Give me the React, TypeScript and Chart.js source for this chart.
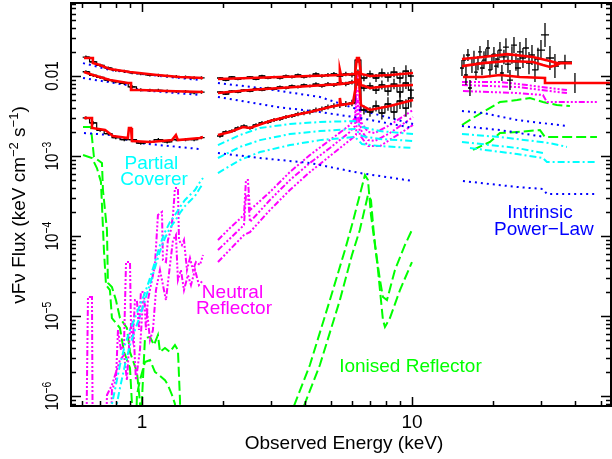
import React, { useEffect, useRef } from "react";
import { Chart, registerables } from "chart.js";

Chart.register(...registerables);

// ---------- axes (Energy keV, nuFnu keV cm^-2 s^-1) ----------
const xRange = [0.546, 54.6];
const yRange = [7.5e-7, 0.0818];
const xTickValues = [1, 10];
const xTickLabels = ["1", "10"];
const yTickValues = [0.01, 1e-3, 1e-4, 1e-5, 1e-6];
const yTickMantissa = ["0.01", "10", "10", "10", "10"];
const yTickExponent = ["", "−3", "−4", "−5", "−6"];

// ---------- component labels ----------
const labelTexts = ["Partial", "Coverer", "Neutral", "Reflector", "Ionised Reflector", "Intrinsic", "Power−Law"];
const labelE = [1.084, 1.108, 2.164, 2.192, 9.87, 29.8, 30.8];
const labelF = [6.88e-4, 4.34e-4, 1.68e-5, 1.06e-5, 2.0e-6, 1.68e-4, 1.03e-4];
const labelKinds = ["pc", "pc", "nr", "nr", "ir", "pl", "pl"];

// ---------- soft band (0.6-1.7 keV) ----------
const redSoftTopE = [0.61, 0.658, 0.658, 0.699, 0.761, 0.903, 1.137, 1.383, 1.683];
const redSoftTopF = [0.0168, 0.0168, 0.0145, 0.0137, 0.0122, 0.0112, 0.0103, 0.00972, 0.00944];
const redSoftMidE = [0.61, 0.658, 0.761, 0.887, 0.911, 0.911, 0.983, 1.238, 1.683];
const redSoftMidF = [0.0112, 0.0103, 0.00891, 0.00818, 0.00818, 0.00668, 0.00668, 0.00649, 0.00631];
const redSoftBotE = [0.61, 0.653, 0.653, 0.73, 0.781, 0.887, 0.895, 0.911, 0.918, 1.071, 1.292, 1.336, 1.359, 1.64, 1.683];
const redSoftBotF = [0.00299, 0.00299, 0.00224, 0.00211, 0.00178, 0.00168, 0.00224, 0.00224, 0.00154, 0.0015, 0.00158, 0.00183, 0.00158, 0.00168, 0.00173];

const blueSoftTopE = [0.605, 0.761, 1.071, 1.64];
const blueSoftTopF = [0.0145, 0.0119, 0.0103, 0.00891];
const blueSoftMidE = [0.605, 0.88, 0.983, 1.64];
const blueSoftMidF = [0.00944, 0.00772, 0.00668, 0.00579];
const blueSoftBotE = [0.61, 0.761, 0.983, 1.27, 1.64];
const blueSoftBotF = [0.00194, 0.00183, 0.00145, 0.00133, 0.00122];

const blkSoftE = [0.62, 0.66, 0.7, 0.75, 0.8, 0.86, 0.92, 0.99, 1.07, 1.15, 1.24, 1.34, 1.45, 1.56, 1.66];
const blkSoftTopF = [0.0172, 0.015, 0.0136, 0.0126, 0.0118, 0.0114, 0.011, 0.0107, 0.0103, 0.0102, 0.01, 0.0098, 0.0097, 0.0095, 0.0095];
const blkSoftMidF = [0.0113, 0.0102, 0.0096, 0.0089, 0.0085, 0.0081, 0.0073, 0.0067, 0.0066, 0.0066, 0.0065, 0.0064, 0.0064, 0.0062, 0.0063];
const blkSoftBotF = [0.003, 0.0026, 0.0021, 0.0019, 0.0017, 0.0016, 0.0016, 0.00145, 0.0015, 0.0016, 0.0015, 0.0016, 0.0016, 0.0016, 0.0017];
const blkSoftErr = [0.02, 0.02, 0.02, 0.02, 0.02, 0.02, 0.02, 0.02, 0.02, 0.02, 0.02, 0.02, 0.02, 0.02, 0.02];

const cyanSoft1E = [0.761, 0.794, 0.829, 0.865, 0.903, 0.942, 0.983, 1.026, 1.071, 1.117, 1.166, 1.217, 1.27, 1.325, 1.383, 1.443, 1.506, 1.572, 1.64, 1.683];
const cyanSoft1F = [6e-7, 1.19e-6, 2.44e-6, 4.34e-6, 6.68e-6, 9.44e-6, 1.37e-5, 1.94e-5, 2.99e-5, 4.73e-5, 7.72e-5, 1.12e-4, 1.5e-4, 1.83e-4, 2.3e-4, 2.82e-4, 3.26e-4, 3.76e-4, 4.73e-4, 5.31e-4];
const cyanSoft2E = [0.794, 0.829, 0.865, 0.903, 0.942, 0.983, 1.026, 1.071, 1.117, 1.166, 1.217, 1.27, 1.325, 1.383, 1.443, 1.506, 1.572, 1.64, 1.683];
const cyanSoft2F = [6e-7, 1.26e-6, 2.44e-6, 4.34e-6, 6.68e-6, 1.0e-5, 1.58e-5, 2.51e-5, 3.98e-5, 6.49e-5, 9.44e-5, 1.26e-4, 1.54e-4, 1.94e-4, 2.37e-4, 2.74e-4, 3.16e-4, 3.98e-4, 4.47e-4];

const magSoft1E = [0.62, 0.631, 0.653, 0.658, 0.761, 0.774, 0.801, 0.815, 0.836, 0.858, 0.873, 0.903, 0.911, 0.926, 0.942, 0.958, 0.975, 0.991, 1.017, 1.035, 1.052, 1.089, 1.117, 1.146, 1.186, 1.196, 1.227, 1.248, 1.28, 1.303, 1.325, 1.359, 1.371, 1.406, 1.431, 1.468, 1.506, 1.545, 1.585, 1.64, 1.683];
const magSoft1F = [1e-7, 1.73e-5, 1.73e-5, 1e-7, 1e-7, 1.19e-6, 1.58e-6, 6.68e-6, 3.76e-6, 4.34e-6, 4.73e-5, 4.73e-5, 6.68e-6, 5.0e-6, 1.58e-5, 1.58e-5, 6.68e-6, 2.0e-5, 2.0e-5, 6.68e-6, 1.58e-5, 2.82e-5, 4.34e-5, 1.83e-4, 2.0e-4, 5.0e-5, 4.73e-5, 8.91e-5, 1.19e-4, 1.83e-4, 3.98e-4, 3.98e-4, 8.91e-5, 7.72e-5, 8.91e-5, 3.76e-5, 5.31e-5, 3.76e-5, 4.73e-5, 4.34e-5, 5.79e-5];
const magSoft2E = [0.73, 0.742, 0.774, 0.829, 0.858, 0.88, 0.903, 0.926, 0.95, 0.983, 1.009, 1.044, 1.071, 1.098, 1.127, 1.166, 1.196, 1.227, 1.27, 1.303, 1.336, 1.359, 1.394, 1.431, 1.48, 1.519, 1.572, 1.626, 1.683];
const magSoft2F = [1e-7, 1.03e-6, 1.37e-6, 2.82e-6, 3.26e-6, 1.58e-6, 6.68e-6, 8.91e-6, 1.58e-6, 3.76e-6, 1.58e-5, 1.19e-5, 5.0e-6, 6.68e-6, 2.11e-5, 3.76e-5, 2.44e-5, 1.58e-5, 4.34e-5, 8.91e-5, 1.03e-4, 2.82e-5, 3.76e-5, 2.11e-5, 3.25e-5, 2.44e-5, 3.76e-5, 2.44e-5, 2.82e-5];

const greenSoft1E = [0.605, 0.647, 0.664, 0.711, 0.717, 0.742, 0.748, 0.774, 0.801, 0.829, 0.88, 0.903, 0.958, 0.983, 0.991];
const greenSoft1F = [2.3e-3, 2.3e-3, 9.72e-4, 8.18e-4, 3.76e-4, 1.19e-4, 2.59e-5, 2.31e-5, 1.58e-5, 9.44e-6, 7.08e-6, 3.55e-6, 2.0e-6, 8.41e-7, 1e-7];
const greenSoft2E = [0.605, 0.653, 0.681, 0.705, 0.711, 0.723, 0.736, 0.761, 0.774, 0.829, 0.858, 0.903, 0.918, 0.926];
const greenSoft2F = [1.03e-3, 9.44e-4, 7.08e-4, 4.73e-4, 2.44e-4, 6.68e-5, 2.44e-5, 2.11e-5, 9.44e-6, 7.08e-6, 3.55e-6, 2.24e-6, 8.18e-7, 1e-7];
const greenSoft3E = [0.983, 1.0, 1.026, 1.071, 1.108, 1.146, 1.166, 1.217, 1.27, 1.325, 1.359, 1.383, 1.394];
const greenSoft3F = [1e-7, 8.91e-7, 5.31e-6, 5.47e-6, 4.34e-6, 5.79e-6, 3.55e-6, 3.98e-6, 3.55e-6, 4.34e-6, 3.76e-6, 8.91e-7, 1e-7];
const greenSoft4E = [0.942, 0.958, 0.983, 1.026, 1.071, 1.117, 1.166, 1.217, 1.248, 1.292, 1.325, 1.336];
const greenSoft4F = [1e-7, 1.03e-6, 1.58e-6, 2.66e-6, 2.82e-6, 2.0e-6, 1.78e-6, 1.58e-6, 1.37e-6, 1.03e-6, 7.94e-7, 1e-7];

// ---------- medium band (2-10 keV) ----------
const redMidTopE = [1.912, 2.512, 3.244, 4.188, 5.408, 5.408, 5.457, 6.15, 6.256, 6.364, 6.473, 6.99, 8.287, 10.09];
const redMidTopF = [9.17e-3, 9.44e-3, 9.72e-3, 0.01, 0.0103, 0.0119, 0.0103, 0.0106, 0.0168, 0.0168, 0.0106, 0.01, 0.0103, 0.0109];
const redMidMidE = [1.912, 2.512, 3.244, 4.188, 5.408, 5.408, 5.457, 6.15, 6.256, 6.364, 6.473, 6.99, 8.287, 10.09];
const redMidMidF = [6.13e-3, 6.68e-3, 7.08e-3, 7.5e-3, 7.94e-3, 9.72e-3, 7.94e-3, 8.41e-3, 0.0112, 0.0112, 7.72e-3, 7.08e-3, 7.5e-3, 7.72e-3];
const redMidBotE = [1.912, 2.118, 2.366, 2.512, 2.979, 3.532, 4.188, 4.966, 5.408, 5.408, 5.457, 6.046, 6.256, 6.364, 6.473, 6.99, 8.287, 10.09];
const redMidBotF = [1.83e-3, 2.0e-3, 2.3e-3, 2.24e-3, 2.74e-3, 3.16e-3, 3.55e-3, 4.1e-3, 4.34e-3, 5.31e-3, 4.34e-3, 4.6e-3, 8.91e-3, 8.91e-3, 4.34e-3, 3.76e-3, 4.22e-3, 5.01e-3];

const blueMid1E = [1.912, 2.735, 4.56, 6.41, 10.09];
const blueMid1F = [8.18e-3, 7.08e-3, 5.47e-3, 3.76e-3, 2.51e-3];
const blueMid2E = [1.912, 3.162, 4.56, 6.41, 10.09];
const blueMid2F = [5.47e-3, 4.1e-3, 3.55e-3, 2.99e-3, 2.24e-3];
const blueMid3E = [1.912, 2.735, 4.188, 6.41, 10.09];
const blueMid3F = [1.09e-3, 9.44e-4, 8.18e-4, 6.13e-4, 4.87e-4];

const cyanMidE = [1.912, 2.307, 2.735, 3.532, 4.56, 6.15, 6.529, 7.612, 10.09];
const cyanMid1F = [1.37e-3, 1.83e-3, 2.24e-3, 2.51e-3, 2.66e-3, 2.74e-3, 2.3e-3, 2.05e-3, 1.88e-3];
const cyanMid2F = [9.44e-4, 1.3e-3, 1.58e-3, 1.88e-3, 2.05e-3, 2.18e-3, 1.78e-3, 1.63e-3, 1.54e-3];
const cyanMid3F = [6.13e-4, 8.91e-4, 1.12e-3, 1.37e-3, 1.58e-3, 1.73e-3, 1.41e-3, 1.33e-3, 1.26e-3];

const magMid1E = [1.912, 2.118, 2.387, 2.428, 2.469, 2.512, 2.979, 3.532, 4.188, 4.966, 5.889, 6.15, 6.256, 6.364, 6.473, 6.871, 7.295, 8.287, 10.09];
const magMid1F = [8.91e-5, 1.26e-4, 1.83e-4, 5.01e-4, 5.01e-4, 2.11e-4, 3.55e-4, 6.31e-4, 1.03e-3, 1.58e-3, 2.44e-3, 2.99e-3, 0.0103, 0.0103, 2.66e-3, 2.0e-3, 1.94e-3, 2.44e-3, 3.76e-3];
const magMid2E = [1.912, 2.387, 2.428, 2.469, 2.512, 2.979, 3.532, 4.188, 4.966, 5.889, 6.15, 6.256, 6.364, 6.473, 6.871, 7.295, 8.287, 10.09];
const magMid2F = [6.68e-5, 1.37e-4, 3.26e-4, 3.26e-4, 1.5e-4, 2.82e-4, 5.01e-4, 8.18e-4, 1.26e-3, 2.0e-3, 2.37e-3, 6.68e-3, 6.68e-3, 2.11e-3, 1.58e-3, 1.54e-3, 1.94e-3, 3.07e-3];
const magMid3E = [1.912, 2.387, 2.512, 2.979, 3.532, 4.188, 4.966, 5.889, 6.203, 6.31, 6.41, 6.871, 7.612, 10.09];
const magMid3F = [4.73e-5, 1.03e-4, 1.12e-4, 2.11e-4, 3.76e-4, 6.31e-4, 1.0e-3, 1.58e-3, 1.83e-3, 5.01e-3, 1.83e-3, 1.33e-3, 1.33e-3, 2.44e-3];

const greenMid1E = [3.594, 3.656, 4.188, 4.966, 5.648, 5.995, 6.41, 6.697, 6.871, 7.05, 7.295, 7.612, 7.808, 8.08, 8.65, 9.42, 10.0];
const greenMid1F = [1e-7, 7.5e-7, 2.44e-6, 1.58e-5, 6.68e-5, 1.37e-4, 3.26e-4, 5.79e-4, 5.01e-4, 1.83e-4, 7.72e-5, 2.82e-5, 1.73e-5, 1.58e-5, 3.76e-5, 7.72e-5, 1.19e-4];
const greenMid2E = [3.913, 3.981, 4.56, 5.408, 5.995, 6.41, 6.871, 7.05, 7.233, 7.484, 7.808, 7.943, 8.287, 9.028, 10.0];
const greenMid2F = [1e-7, 7.5e-7, 2.44e-6, 1.58e-5, 5.79e-5, 1.19e-4, 3.26e-4, 2.82e-4, 1.03e-4, 3.76e-5, 8.91e-6, 7.29e-6, 9.44e-6, 2.11e-5, 4.73e-5];

const blkMidE = [1.945, 2.045, 2.153, 2.267, 2.387, 2.512, 2.645, 2.783, 2.929, 3.084, 3.244, 3.415, 3.594, 3.783, 3.981, 4.188, 4.41, 4.64, 4.885, 5.14, 5.408, 5.69, 5.995, 6.31, 6.64, 6.99, 7.36, 7.74, 8.15, 8.58, 9.03, 9.5, 9.91];
const blkMidTopF = [9.44e-3, 8.91e-3, 9.72e-3, 9.17e-3, 9.44e-3, 9.72e-3, 9.17e-3, 0.01, 9.44e-3, 9.72e-3, 9.44e-3, 0.01, 9.72e-3, 0.0103, 9.72e-3, 0.01, 0.0106, 0.01, 0.0103, 0.0106, 0.01, 0.0106, 0.0103, 0.0158, 9.44e-3, 0.0106, 9.44e-3, 0.0109, 9.72e-3, 0.0112, 9.44e-3, 0.0115, 0.01];
const blkMidMidF = [6.31e-3, 5.96e-3, 6.49e-3, 6.31e-3, 6.68e-3, 6.49e-3, 6.88e-3, 6.68e-3, 7.08e-3, 6.88e-3, 7.29e-3, 7.08e-3, 7.5e-3, 7.29e-3, 7.72e-3, 7.5e-3, 7.94e-3, 7.5e-3, 7.94e-3, 7.72e-3, 8.18e-3, 7.94e-3, 8.41e-3, 0.0112, 7.08e-3, 7.5e-3, 6.68e-3, 7.72e-3, 6.49e-3, 7.94e-3, 6.31e-3, 8.18e-3, 6.68e-3];
const blkMidBotF = [1.78e-3, 2.0e-3, 2.05e-3, 2.24e-3, 2.37e-3, 2.24e-3, 2.44e-3, 2.59e-3, 2.66e-3, 2.82e-3, 2.9e-3, 3.07e-3, 3.16e-3, 3.35e-3, 3.45e-3, 3.55e-3, 3.76e-3, 3.87e-3, 4.1e-3, 4.22e-3, 4.34e-3, 4.47e-3, 4.6e-3, 8.41e-3, 3.76e-3, 3.55e-3, 4.22e-3, 3.45e-3, 4.47e-3, 3.55e-3, 4.87e-3, 3.98e-3, 5.31e-3];
const blkMidErr = [0.014, 0.014, 0.014, 0.014, 0.014, 0.014, 0.016, 0.016, 0.016, 0.016, 0.018, 0.018, 0.018, 0.02, 0.02, 0.02, 0.022, 0.022, 0.024, 0.024, 0.026, 0.028, 0.03, 0.032, 0.04, 0.045, 0.05, 0.055, 0.06, 0.065, 0.07, 0.075, 0.085];
const blkMidErrLow = [0.022, 0.022, 0.022, 0.022, 0.022, 0.022, 0.022, 0.024, 0.024, 0.024, 0.026, 0.026, 0.026, 0.028, 0.028, 0.03, 0.03, 0.032, 0.032, 0.034, 0.036, 0.038, 0.04, 0.045, 0.055, 0.06, 0.07, 0.08, 0.085, 0.09, 0.1, 0.11, 0.12];

// ---------- hard band (15-50 keV) ----------
const redHard1E = [15.32, 18.32, 22.49, 28.05, 32.44, 34.43, 39.15];
const redHard1F = [0.0163, 0.0173, 0.0188, 0.0173, 0.0154, 0.0145, 0.0145];
const redHard2E = [15.32, 18.32, 22.49, 28.05, 30.55, 32.44, 34.43, 35.32];
const redHard2F = [0.0133, 0.0145, 0.0154, 0.015, 0.0137, 0.013, 0.0137, 0.0145];
const redHard3E = [15.45, 18.32, 21.18, 25.12, 31.1, 31.1, 54.1];
const redHard3F = [9.72e-3, 9.72e-3, 0.0103, 9.72e-3, 9.44e-3, 8.18e-3, 8.18e-3];

const magHard1E = [15.32, 21.18, 26.66, 32.44, 37.5];
const magHard1F = [8.41e-3, 8.41e-3, 7.72e-3, 7.08e-3, 6.68e-3];
const magHard2E = [15.32, 24.49, 32.44, 37.5];
const magHard2F = [7.72e-3, 7.29e-3, 6.49e-3, 6.13e-3];
const magHard3E = [15.45, 24.49, 30.55, 31.62, 48.43];
const magHard3F = [6.49e-3, 6.13e-3, 5.79e-3, 4.73e-3, 4.73e-3];

const greenHard1E = [15.32, 16.83, 18.32, 21.18, 24.49, 27.35, 30.55, 34.43, 38.46];
const greenHard1F = [2.44e-3, 2.99e-3, 3.55e-3, 4.73e-3, 5.01e-3, 5.31e-3, 4.73e-3, 4.34e-3, 4.22e-3];
const greenHard2E = [16.83, 19.45, 21.18, 24.49, 29.79, 31.1, 48.43];
const greenHard2F = [1.19e-3, 1.5e-3, 1.94e-3, 2.0e-3, 2.11e-3, 1.73e-3, 1.73e-3];

const blueHard1E = [15.32, 18.32, 24.49, 37.5];
const blueHard1F = [3.65e-3, 3.45e-3, 2.82e-3, 2.37e-3];
const blueHard2E = [15.32, 21.18, 31.1];
const blueHard2F = [2.37e-3, 2.11e-3, 1.73e-3];
const blueHard3E = [15.45, 24.49, 30.55, 31.62, 48.43];
const blueHard3F = [4.87e-4, 4.1e-4, 3.87e-4, 3.35e-4, 3.35e-4];

const cyanHard1E = [15.32, 21.18, 32.44, 37.5];
const cyanHard1F = [1.88e-3, 1.73e-3, 1.45e-3, 1.3e-3];
const cyanHard2E = [15.32, 24.49, 30.55];
const cyanHard2F = [1.5e-3, 1.26e-3, 1.09e-3];
const cyanHard3E = [16.4, 24.49, 30.55, 31.62, 48.43];
const cyanHard3F = [1.26e-3, 1.06e-3, 9.44e-4, 8.41e-4, 8.41e-4];

const blkHardE = [15.32, 15.58, 15.85, 16.12, 16.4, 16.68, 16.97, 17.26, 17.56, 17.86, 18.17, 18.48, 18.79, 19.12, 19.45, 19.78, 20.12, 20.47, 20.82, 21.18, 21.54, 21.91, 22.29, 22.68, 23.07, 23.46, 23.87, 24.28, 24.7, 25.12, 25.77, 26.44, 27.13, 27.83, 28.55, 29.29, 30.05, 31.1, 32.44, 33.85, 36.87, 40.15];
const blkHardF = [0.0126, 0.0158, 0.0103, 0.0183, 0.00708, 0.0137, 0.0168, 0.0112, 0.0145, 0.02, 0.0126, 0.0158, 0.0178, 0.0224, 0.0119, 0.015, 0.0188, 0.0133, 0.0163, 0.0211, 0.0109, 0.0173, 0.023, 0.0141, 0.00891, 0.0183, 0.0244, 0.015, 0.0126, 0.02, 0.0168, 0.0224, 0.0145, 0.0183, 0.0119, 0.0163, 0.0211, 0.0326, 0.0168, 0.0133, 0.015, 0.00818];
const blkHardErr = [0.1, 0.075, 0.125, 0.075, 0.1, 0.1, 0.09, 0.1, 0.09, 0.075, 0.09, 0.11, 0.09, 0.1, 0.09, 0.1, 0.09, 0.1, 0.11, 0.1, 0.1, 0.09, 0.11, 0.11, 0.125, 0.11, 0.1, 0.11, 0.125, 0.125, 0.125, 0.125, 0.14, 0.125, 0.15, 0.14, 0.125, 0.15, 0.15, 0.15, 0.09, 0.125];
const blkHardXErr = [0.0074, 0.0074, 0.0074, 0.0074, 0.0074, 0.0074, 0.0074, 0.0074, 0.0074, 0.0074, 0.0074, 0.0074, 0.0074, 0.0074, 0.0074, 0.0074, 0.0074, 0.0074, 0.0074, 0.0074, 0.0074, 0.011, 0.011, 0.011, 0.011, 0.011, 0.011, 0.011, 0.011, 0.011, 0.011, 0.011, 0.011, 0.011, 0.011, 0.011, 0.015, 0.015, 0.015, 0.015, 0.026, 0.11];

// ---------- series lists ----------
const modelSeries = [
  [redSoftTopE, redSoftTopF], [redSoftMidE, redSoftMidF], [redSoftBotE, redSoftBotF],
  [redMidTopE, redMidTopF], [redMidMidE, redMidMidF], [redMidBotE, redMidBotF],
  [redHard1E, redHard1F], [redHard2E, redHard2F], [redHard3E, redHard3F],
];
// [energies, fluxes, y-error (dex), x half-width (dex), joined]
const dataSeries = [
  [blkSoftE, blkSoftTopF, blkSoftErr, 0.012, true], [blkSoftE, blkSoftMidF, blkSoftErr, 0.012, true], [blkSoftE, blkSoftBotF, blkSoftErr, 0.012, true],
  [blkMidE, blkMidTopF, blkMidErr, 0.011, true], [blkMidE, blkMidMidF, blkMidErr, 0.011, true], [blkMidE, blkMidBotF, blkMidErrLow, 0.011, true],
  [blkHardE, blkHardF, blkHardErr, blkHardXErr, false],
];
const plSeries = [
  [blueSoftTopE, blueSoftTopF], [blueSoftMidE, blueSoftMidF], [blueSoftBotE, blueSoftBotF],
  [blueMid1E, blueMid1F], [blueMid2E, blueMid2F], [blueMid3E, blueMid3F],
  [blueHard1E, blueHard1F], [blueHard2E, blueHard2F], [blueHard3E, blueHard3F],
];
const pcSeries = [
  [cyanSoft1E, cyanSoft1F], [cyanSoft2E, cyanSoft2F],
  [cyanMidE, cyanMid1F], [cyanMidE, cyanMid2F], [cyanMidE, cyanMid3F],
  [cyanHard1E, cyanHard1F], [cyanHard2E, cyanHard2F], [cyanHard3E, cyanHard3F],
];
const nrSeries = [
  [magSoft1E, magSoft1F], [magSoft2E, magSoft2F],
  [magMid1E, magMid1F], [magMid2E, magMid2F], [magMid3E, magMid3F],
  [magHard1E, magHard1F], [magHard2E, magHard2F], [magHard3E, magHard3F],
];
const irSeries = [
  [greenSoft1E, greenSoft1F], [greenSoft2E, greenSoft2F], [greenSoft3E, greenSoft3F], [greenSoft4E, greenSoft4F],
  [greenMid1E, greenMid1F], [greenMid2E, greenMid2F],
  [greenHard1E, greenHard1F], [greenHard2E, greenHard2F],
];

const STYLE: any = {
  model: { color: "#ff0000", width: 2.6, dash: [] },
  pl: { color: "#0000ff", width: 2, dash: [2, 4] },
  pc: { color: "#00ffff", width: 2, dash: [7, 3, 2, 3] },
  nr: { color: "#ff00ff", width: 2, dash: [6, 2, 2, 2, 2, 2, 2, 2] },
  ir: { color: "#00ff00", width: 2, dash: [10, 4] },
};

const FONT = '19px "Liberation Sans", Arial, Helvetica, sans-serif';
const SUP_FONT = '13px "Liberation Sans", Arial, Helvetica, sans-serif';

function zip(E: number[], F: number[]) {
  return E.map((e, i) => ({ x: e, y: F[i] }));
}

function lineSet(s: any[], kind: string) {
  const st = STYLE[kind];
  return {
    data: zip(s[0], s[1]),
    showLine: true,
    borderColor: st.color,
    backgroundColor: st.color,
    borderWidth: st.width,
    borderDash: st.dash,
    pointRadius: 0,
    fill: false,
    tension: 0,
  };
}

function buildDatasets() {
  const out: any[] = [];
  modelSeries.forEach((s) => out.push(lineSet(s, "model")));
  dataSeries.forEach((s: any[]) =>
    out.push({
      data: zip(s[0], s[1]),
      showLine: s[4],
      stepped: "middle",
      borderColor: "#000000",
      borderWidth: 1.2,
      pointRadius: 0,
      fill: false,
      yErr: s[2],
      xErr: s[3],
    })
  );
  plSeries.forEach((s) => out.push(lineSet(s, "pl")));
  pcSeries.forEach((s) => out.push(lineSet(s, "pc")));
  nrSeries.forEach((s) => out.push(lineSet(s, "nr")));
  irSeries.forEach((s) => out.push(lineSet(s, "ir")));
  return out;
}

const errorBarPlugin = {
  id: "errbars",
  afterDatasetDraw(chart: any, args: any) {
    const ds: any = chart.data.datasets[args.index];
    if (!ds.yErr) return;
    const ctx = chart.ctx;
    const xs = chart.scales.x;
    const ys = chart.scales.y;
    ctx.save();
    ctx.strokeStyle = "#000";
    ctx.lineWidth = 1.3;
    ctx.beginPath();
    ds.data.forEach((p: any, i: number) => {
      const e = ds.yErr[i];
      const xe = Array.isArray(ds.xErr) ? ds.xErr[i] : ds.xErr;
      const px = xs.getPixelForValue(p.x);
      const py = ys.getPixelForValue(p.y);
      ctx.moveTo(px, ys.getPixelForValue(p.y * Math.pow(10, -e)));
      ctx.lineTo(px, ys.getPixelForValue(p.y * Math.pow(10, e)));
      ctx.moveTo(xs.getPixelForValue(p.x * Math.pow(10, -xe)), py);
      ctx.lineTo(xs.getPixelForValue(p.x * Math.pow(10, xe)), py);
    });
    ctx.stroke();
    ctx.restore();
  },
};

function drawRotated(ctx: any, parts: [string, boolean][], cx: number, cy: number, squash: number) {
  ctx.save();
  ctx.translate(cx, cy);
  ctx.rotate(-Math.PI / 2);
  ctx.scale(squash, 1);
  let total = 0;
  const widths = parts.map(([t, sup]) => {
    ctx.font = sup ? SUP_FONT : FONT;
    const w = ctx.measureText(t).width;
    total += w;
    return w;
  });
  let x = -total / 2;
  ctx.textAlign = "left";
  ctx.textBaseline = "alphabetic";
  parts.forEach(([t, sup], i) => {
    ctx.font = sup ? SUP_FONT : FONT;
    ctx.fillText(t, x, sup ? -7 : 0);
    x += widths[i];
  });
  ctx.restore();
}

const framePlugin = {
  id: "frame",
  afterDraw(chart: any) {
    const { ctx, chartArea: a, scales } = chart;
    const xs = scales.x;
    const ys = scales.y;
    ctx.save();
    ctx.strokeStyle = "#000";
    ctx.lineWidth = 2;
    ctx.strokeRect(a.left, a.top, a.right - a.left, a.bottom - a.top);
    ctx.lineWidth = 1.5;
    ctx.beginPath();
    for (let d = -1; d <= 1; d++) {
      for (let m = 1; m <= 9; m++) {
        const v = m * Math.pow(10, d);
        if (v < xRange[0] || v > xRange[1]) continue;
        const px = Math.round(xs.getPixelForValue(v)) + 0.5;
        const len = m === 1 ? 9 : 5;
        ctx.moveTo(px, a.bottom);
        ctx.lineTo(px, a.bottom - len);
        ctx.moveTo(px, a.top);
        ctx.lineTo(px, a.top + len);
      }
    }
    for (let d = -7; d <= -1; d++) {
      for (let m = 1; m <= 9; m++) {
        const v = m * Math.pow(10, d);
        if (v < yRange[0] || v > yRange[1]) continue;
        const py = Math.round(ys.getPixelForValue(v)) + 0.5;
        const len = m === 1 ? 10 : 5;
        ctx.moveTo(a.left, py);
        ctx.lineTo(a.left + len, py);
        ctx.moveTo(a.right, py);
        ctx.lineTo(a.right - len, py);
      }
    }
    ctx.stroke();

    ctx.fillStyle = "#000";
    ctx.font = FONT;
    ctx.textAlign = "center";
    ctx.textBaseline = "alphabetic";
    xTickValues.forEach((v, i) => ctx.fillText(xTickLabels[i], xs.getPixelForValue(v), a.bottom + 22));
    ctx.fillText("Observed Energy (keV)", 344, a.bottom + 43);

    yTickValues.forEach((v, i) => {
      const parts: [string, boolean][] = [[yTickMantissa[i], false]];
      if (yTickExponent[i]) parts.push([yTickExponent[i], true]);
      drawRotated(ctx, parts, a.left - 13, ys.getPixelForValue(v), 0.8);
    });

    drawRotated(
      ctx,
      [["νFν Flux (keV cm", false], ["−2", true], [" s", false], ["−1", true], [")", false]],
      25,
      205,
      1
    );

    ctx.textAlign = "center";
    ctx.font = FONT;
    labelTexts.forEach((t, i) => {
      ctx.fillStyle = STYLE[labelKinds[i]].color;
      ctx.fillText(t, xs.getPixelForValue(labelE[i]), ys.getPixelForValue(labelF[i]));
    });
    ctx.restore();
  },
};

export default function App() {
  const ref = useRef<HTMLCanvasElement>(null);
  useEffect(() => {
    document.body.style.margin = "0";
    const canvas = ref.current as HTMLCanvasElement;
    const chart = new Chart(canvas, {
      type: "scatter",
      data: { datasets: buildDatasets() },
      options: {
        animation: false,
        responsive: false,
        devicePixelRatio: 1,
        layout: { padding: { left: 71, top: 3, right: 1, bottom: 53 } },
        scales: {
          x: { type: "logarithmic", min: xRange[0], max: xRange[1], display: false },
          y: { type: "logarithmic", min: yRange[0], max: yRange[1], display: false },
        },
        plugins: { legend: { display: false }, tooltip: { enabled: false } },
        events: [],
      } as any,
      plugins: [errorBarPlugin, framePlugin],
    });
    return () => chart.destroy();
  }, []);
  return <canvas ref={ref} width={612} height={459} style={{ display: "block" }} />;
}
